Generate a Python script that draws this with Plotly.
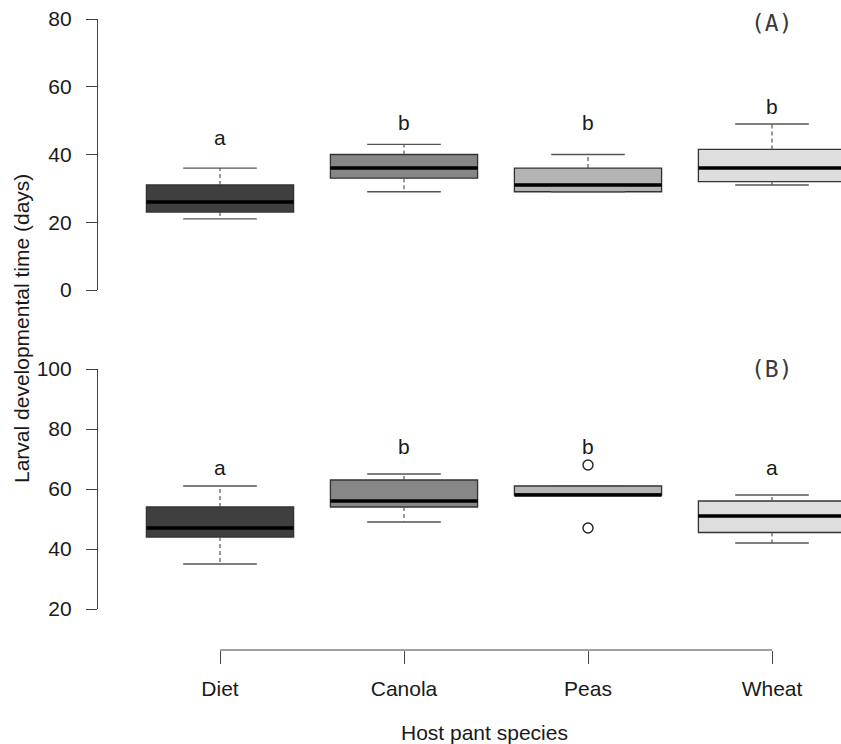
import plotly.graph_objects as go

# ---------------- data ----------------
categories = ["Diet", "Canola", "Peas", "Wheat"]
fill_colors = ["#3f3f3f", "#878787", "#b4b4b4", "#dedede"]

# Panel A
a_lower = [21, 29, 29, 31]
a_q1 = [23, 33, 29, 32]
a_median = [26, 36, 31, 36]
a_q3 = [31, 40, 36, 41.5]
a_upper = [36, 43, 40, 49]
a_letters = ["a", "b", "b", "b"]
a_outliers_x = []
a_outliers_y = []

# Panel B
b_lower = [35, 49, 58, 42]
b_q1 = [44, 54, 58, 45.5]
b_median = [47, 56, 58, 51]
b_q3 = [54, 63, 61, 56]
b_upper = [61, 65, 61, 58]
b_letters = ["a", "b", "b", "a"]
b_outliers_x = ["Peas", "Peas"]
b_outliers_y = [68, 47]

# label heights (annotation placement)
a_letter_y = [44.9, 49.3, 49.3, 54.3]
b_letter_y = [67.1, 74.3, 74.3, 67.1]

# ---------------- geometry ----------------
W, H = 841, 744
L = 98
BOXW = 0.8
CAPW = 0.4
xpos = [i + 1 for i in range(len(categories))]
xmap = dict(zip(categories, xpos))
x_range = [1 - (220 - L) / 184.0, 4 + (W - 772) / 184.0]

def pf(px):
    return (H - px) / H

LINE = "#333333"
AX = "#444444"
FONT = "Liberation Sans, Arial, sans-serif"
FS = 21
TXT = "#1a1a1a"

fig = go.Figure()

def add_panel(xa, ya, lower, q1, med, q3, upper, ox, oy):
    for i, cat in enumerate(categories):
        x = xpos[i]
        fig.add_trace(go.Box(
            x=[x], q1=[q1[i]], median=[med[i]], q3=[q3[i]],
            lowerfence=[q1[i]], upperfence=[q3[i]],
            width=BOXW, whiskerwidth=0, fillcolor=fill_colors[i],
            line=dict(color=LINE, width=1.3), boxpoints=False,
            name=cat, showlegend=False, xaxis=xa, yaxis=ya, hoverinfo="skip"))
        # whiskers (dashed)
        fig.add_trace(go.Scatter(
            x=[x, x, None, x, x], y=[q3[i], upper[i], None, q1[i], lower[i]],
            mode="lines", line=dict(color="#555555", width=1.2, dash="4px,3px"),
            showlegend=False, xaxis=xa, yaxis=ya, hoverinfo="skip"))
        # caps
        fig.add_trace(go.Scatter(
            x=[x - CAPW / 2, x + CAPW / 2, None, x - CAPW / 2, x + CAPW / 2],
            y=[upper[i], upper[i], None, lower[i], lower[i]],
            mode="lines", line=dict(color="#555555", width=1.3),
            showlegend=False, xaxis=xa, yaxis=ya, hoverinfo="skip"))
        # thick median
        fig.add_trace(go.Scatter(
            x=[x - BOXW / 2, x + BOXW / 2], y=[med[i], med[i]],
            mode="lines", line=dict(color="#000000", width=3.5),
            showlegend=False, xaxis=xa, yaxis=ya, hoverinfo="skip"))
    if ox:
        fig.add_trace(go.Scatter(
            x=[xmap[c] for c in ox], y=oy, mode="markers",
            marker=dict(symbol="circle-open", size=10, color="#222222",
                        line=dict(width=1.4, color="#222222")),
            showlegend=False, xaxis=xa, yaxis=ya, hoverinfo="skip"))

add_panel("x", "y", a_lower, a_q1, a_median, a_q3, a_upper, a_outliers_x, a_outliers_y)
add_panel("x2", "y2", b_lower, b_q1, b_median, b_q3, b_upper, b_outliers_x, b_outliers_y)

yaxis_common = dict(showline=True, linecolor=AX, linewidth=1.2, ticks="outside",
                    ticklen=11, tickwidth=1.2, tickcolor=AX, showgrid=False,
                    zeroline=False, tickfont=dict(family=FONT, size=FS, color=TXT),
                    automargin=False, ticklabelstandoff=10)

fig.update_layout(
    width=W, height=H,
    margin=dict(l=L, r=0, t=0, b=0),
    paper_bgcolor="white", plot_bgcolor="white",
    showlegend=False,
    xaxis=dict(domain=[0, 1], range=x_range, visible=False, anchor="y"),
    yaxis=dict(domain=[pf(290), pf(19)], range=[0, 80], tickvals=[0, 20, 40, 60, 80],
               anchor="x", **yaxis_common),
    xaxis2=dict(domain=[0, 1], range=x_range, anchor="free", position=pf(650),
                showline=False, showgrid=False, zeroline=False,
                tickvals=xpos, ticktext=categories, ticks="outside", ticklen=13,
                tickwidth=1.2, tickcolor=AX,
                tickfont=dict(family=FONT, size=FS, color=TXT),
                ticklabelstandoff=7, automargin=False),
    yaxis2=dict(domain=[pf(609), pf(369)], range=[20, 100],
                tickvals=[20, 40, 60, 80, 100], anchor="x2", **yaxis_common),
)

# x axis line spanning first to last category
fig.add_shape(type="line", xref="x2", yref="paper", x0=xpos[0], x1=xpos[-1],
              y0=pf(650), y1=pf(650), line=dict(color=AX, width=1.2))

# significance letters
for i in range(len(categories)):
    fig.add_annotation(x=xpos[i], y=a_letter_y[i], xref="x", yref="y", text=a_letters[i],
                       showarrow=False, xanchor="center", yanchor="middle",
                       font=dict(family=FONT, size=FS, color=TXT))
    fig.add_annotation(x=xpos[i], y=b_letter_y[i], xref="x2", yref="y2", text=b_letters[i],
                       showarrow=False, xanchor="center", yanchor="middle",
                       font=dict(family=FONT, size=FS, color=TXT))

# panel labels
fig.add_annotation(x=4, y=pf(23), xref="x", yref="paper", text="(A)", showarrow=False,
                   xanchor="center", yanchor="middle",
                   font=dict(family="DejaVu Sans Mono", size=23, color="#3a3a3a"))
fig.add_annotation(x=4, y=pf(369), xref="x2", yref="paper", text="(B)", showarrow=False,
                   xanchor="center", yanchor="middle",
                   font=dict(family="DejaVu Sans Mono", size=23, color="#3a3a3a"))

# axis titles
fig.add_annotation(x=(484 - L) / (W - L), y=pf(732), xref="paper", yref="paper",
                   text="Host pant species", showarrow=False,
                   xanchor="center", yanchor="middle",
                   font=dict(family=FONT, size=FS, color=TXT))
fig.add_annotation(x=-(L - 21) / (W - L), y=pf(329), xref="paper", yref="paper",
                   text="Larval developmental time (days)", textangle=-90, showarrow=False,
                   xanchor="center", yanchor="middle",
                   font=dict(family=FONT, size=FS, color=TXT))

fig.write_html("out.html")
